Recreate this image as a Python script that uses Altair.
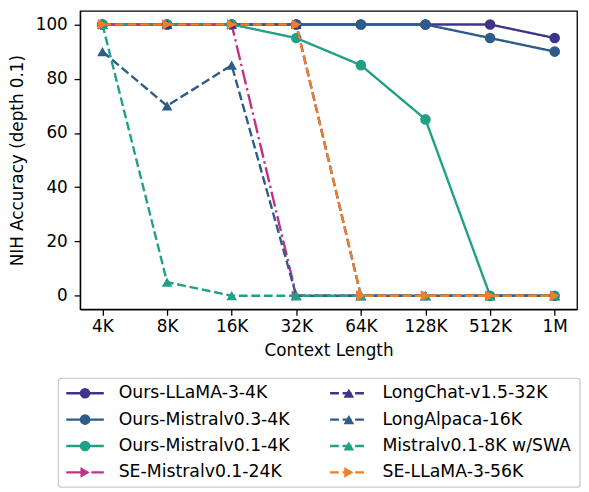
import altair as alt
import pandas as pd

contexts = ["4K", "8K", "16K", "32K", "64K", "128K", "512K", "1M"]

series = [
    "Ours-LLaMA-3-4K",
    "Ours-Mistralv0.3-4K",
    "Ours-Mistralv0.1-4K",
    "SE-Mistralv0.1-24K",
    "LongChat-v1.5-32K",
    "LongAlpaca-16K",
    "Mistralv0.1-8K w/SWA",
    "SE-LLaMA-3-56K",
]

ours_llama3 = [100, 100, 100, 100, 100, 100, 100, 95]
ours_mistral03 = [100, 100, 100, 100, 100, 100, 95, 90]
ours_mistral01 = [100, 100, 100, 95, 85, 65, 0, 0]
se_mistral01 = [100, 100, 100, 0, 0, 0, 0, 0]
longchat = [100, 100, 100, 100, 0, 0, 0, 0]
longalpaca = [90, 70, 85, 0, 0, 0, 0, 0]
mistral_swa = [100, 5, 0, 0, 0, 0, 0, 0]
se_llama3 = [100, 100, 100, 100, 0, 0, 0, 0]

values = [ours_llama3, ours_mistral03, ours_mistral01, se_mistral01,
          longchat, longalpaca, mistral_swa, se_llama3]

colors = ["#3e358b", "#2e5c8a", "#20a086", "#c2308a",
          "#3e358b", "#2e5c8a", "#20a086", "#f17f29"]
solid, dashed, dashdot = [1, 0], [8.9, 3.8], [15.4, 3.8, 2.4, 3.8]
dashes = [solid, solid, solid, dashdot, dashed, dashed, dashed, dashed]
shapes = ["circle", "circle", "circle", "triangle-right",
          "triangle-up", "triangle-up", "triangle-up", "triangle-right"]
sizes = [115, 115, 115, 165, 165, 165, 165, 165]

rows = []
for s, vals in zip(series, values):
    for c, v in zip(contexts, vals):
        rows.append({"series": s, "context": c, "acc": v})
df = pd.DataFrame(rows)

color_enc = alt.Color("series:N", scale=alt.Scale(domain=series, range=colors), legend=None)
dash_enc = alt.StrokeDash("series:N", scale=alt.Scale(domain=series, range=dashes), legend=None)
shape_enc = alt.Shape("series:N", scale=alt.Scale(domain=series, range=shapes), legend=None)
size_enc = alt.Size("series:N", scale=alt.Scale(domain=series, range=sizes), legend=None)

FS = 17

base = alt.Chart(df).encode(
    x=alt.X("context:N", sort=contexts, title="Context Length",
            scale=alt.Scale(type="point", padding=0.346),
            axis=alt.Axis(labelAngle=0, labelPadding=4, titlePadding=8)),
    y=alt.Y("acc:Q", title="NIH Accuracy (depth 0.1)",
            scale=alt.Scale(domain=[-5, 105], nice=False, zero=False),
            axis=alt.Axis(values=[0, 20, 40, 60, 80, 100], labelPadding=7, titlePadding=9)),
    color=color_enc,
)

# one line + markers layer per series so later series sit on top
series_layers = []
for s in series:
    sub = base.transform_filter(alt.datum.series == s)
    series_layers.append(sub.mark_line(strokeWidth=2.4).encode(strokeDash=dash_enc))
    series_layers.append(sub.mark_point(filled=True, opacity=1).encode(shape=shape_enc, size=size_enc))
main = alt.layer(*series_layers)

# hand-built legend below the plot, two columns of four
row_y0, row_step = 387, 26.7
col_x = [-14, 253]
line_len, text_gap = 38, 53
leg = pd.DataFrame({
    "series": series,
    "lx": [col_x[i // 4] for i in range(8)],
    "lx2": [col_x[i // 4] + line_len for i in range(8)],
    "mx": [col_x[i // 4] + line_len / 2 for i in range(8)],
    "tx": [col_x[i // 4] + text_gap for i in range(8)],
    "ly": [row_y0 + row_step * (i % 4) for i in range(8)],
})
box = pd.DataFrame({"x": [-22], "x2": [506], "y": [372], "y2": [482]})

px_x = alt.Scale(domain=[0, 503], range=[0, 503], nice=False, zero=False)
px_y = alt.Scale(domain=[0, 302], range=[0, 302], nice=False, zero=False)

leg_box = alt.Chart(box).mark_rect(fill="white", stroke="#cccccc", strokeWidth=1.3,
                                   cornerRadius=3).encode(
    x=alt.X("x:Q", scale=px_x, axis=None), x2="x2:Q",
    y=alt.Y("y:Q", scale=px_y, axis=None), y2="y2:Q",
)
leg_base = alt.Chart(leg).encode(
    y=alt.Y("ly:Q", scale=px_y, axis=None),
    color=color_enc,
)
leg_lines = leg_base.mark_rule(strokeWidth=2.4).encode(
    x=alt.X("lx:Q", scale=px_x, axis=None), x2="lx2:Q", strokeDash=dash_enc)
leg_marks = leg_base.mark_point(filled=True, opacity=1).encode(
    x=alt.X("mx:Q", scale=px_x, axis=None), shape=shape_enc, size=size_enc)
leg_text = leg_base.mark_text(align="left", baseline="middle", fontSize=17.5).encode(
    x=alt.X("tx:Q", scale=px_x, axis=None), text="series:N", color=alt.value("black"))
legend = alt.layer(leg_box, leg_lines, leg_marks, leg_text)

chart = alt.layer(main, legend).resolve_scale(
    x="independent", y="independent"
).properties(
    width=503, height=302,
    padding={"left": 0, "top": 0, "right": 0, "bottom": 0},
).configure(
    font="DejaVu Sans",
).configure_view(
    stroke="black", strokeWidth=1.3,
).configure_axis(
    grid=False, domainColor="black", domainWidth=1.3,
    tickColor="black", tickWidth=1.3, tickSize=6,
    labelColor="black", titleColor="black",
    labelFontSize=FS, titleFontSize=FS, titleFontWeight="normal",
    labelFont="DejaVu Sans", titleFont="DejaVu Sans",
)

chart.save("out.html", embed_options={"renderer": "svg", "actions": False})
